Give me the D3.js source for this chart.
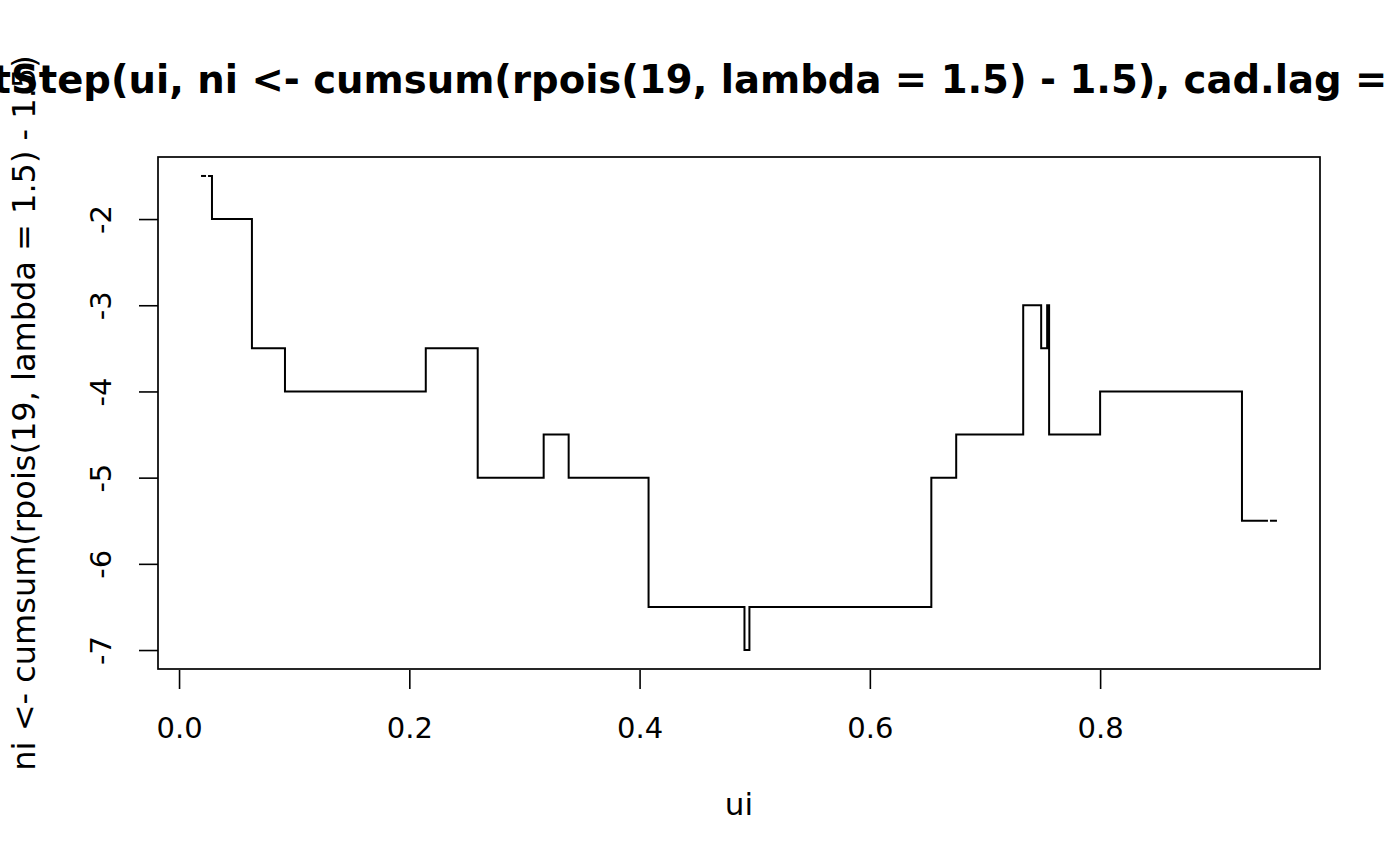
<!DOCTYPE html>
<html>
<head>
<meta charset="utf-8">
<script src="https://cdn.jsdelivr.net/npm/d3@7"></script>
<style>
  body { margin: 0; background: #fff; }
  svg { display: block; font-family: "DejaVu Sans", sans-serif; }
</style>
</head>
<body>
<div id="chart"></div>
<script>
// step positions (sorted ui) and the cumulative levels between them
var ui = [0.0191, 0.0286, 0.0633, 0.0920, 0.2143, 0.2594, 0.3167, 0.3384, 0.4078, 0.4911,
          0.4954, 0.6534, 0.6750, 0.7332, 0.7488, 0.7540, 0.7557, 0.8000, 0.9232, 0.9536];
var ni = [-1.5, -2, -3.5, -4, -3.5, -5, -4.5, -5, -6.5, -7,
          -6.5, -5, -4.5, -3, -3.5, -3, -4.5, -4, -5.5];
var xTicks = [0, 0.2, 0.4, 0.6, 0.8];
var yTicks = [-2, -3, -4, -5, -6, -7];
var titleText = "plotStep(ui, ni <- cumsum(rpois(19, lambda = 1.5) - 1.5), cad.lag = FALSE)";
var xLabel = "ui";
var yLabel = "ni <- cumsum(rpois(19, lambda = 1.5) - 1.5)";

var svgWidth = 1400;
var svgHeight = 866;
var margin = { top: 157, right: 80, bottom: 197, left: 158 };
var width = svgWidth - margin.left - margin.right;
var height = svgHeight - margin.top - margin.bottom;

var svg = d3.select("#chart").append("svg")
  .attr("width", svgWidth)
  .attr("height", svgHeight);

var chartGroup = svg.append("g")
  .attr("transform", `translate(${margin.left}, ${margin.top})`);

// R style 4% padding on both axes
function padded(ext) {
  var r = ext[1] - ext[0];
  return [ext[0] - 0.04 * r, ext[1] + 0.04 * r];
}

var xScale = d3.scaleLinear().domain(padded(d3.extent(ui))).range([0, width]);
var yScale = d3.scaleLinear().domain(padded(d3.extent(ni))).range([height, 0]);

// axes
var bottomAxis = d3.axisBottom(xScale).tickValues(xTicks).tickSize(19).tickPadding(28)
  .tickFormat(d3.format(".1f"));
var leftAxis = d3.axisLeft(yScale).tickValues(yTicks).tickSize(19).tickFormat(d => d);

var xAxis = chartGroup.append("g")
  .attr("transform", `translate(0, ${height + 1})`)
  .call(bottomAxis);
xAxis.select(".domain").remove();
xAxis.selectAll("line").attr("stroke", "#000").attr("stroke-width", 1.6);
xAxis.selectAll("text")
  .attr("fill", "#000")
  .attr("font-size", "29px")
  .attr("font-family", "DejaVu Sans");

var yAxis = chartGroup.append("g")
  .call(leftAxis);
yAxis.select(".domain").remove();
yAxis.selectAll("line").attr("stroke", "#000").attr("stroke-width", 1.6);
yAxis.selectAll("text")
  .attr("fill", "#000")
  .attr("font-size", "29px")
  .attr("font-family", "DejaVu Sans")
  .attr("text-anchor", "middle")
  .attr("dy", 0)
  .attr("x", 0)
  .attr("y", 0)
  .attr("transform", "translate(-47, 0) rotate(-90)");

// the step function, horizontal then vertical
var n = ni.length;
var stepPts = [];
stepPts.push([xScale(ui[0]) + 7, yScale(ni[0])]);
for (var i = 1; i < n; i++) {
  stepPts.push([xScale(ui[i]), yScale(ni[i])]);
}
stepPts.push([xScale(ui[n]) - 9, yScale(ni[n - 1])]);

var stepLine = d3.line().curve(d3.curveStepAfter);
chartGroup.append("path")
  .attr("d", stepLine(stepPts))
  .attr("fill", "none")
  .attr("stroke", "#000")
  .attr("stroke-width", 2);

// little end dashes
chartGroup.append("line")
  .attr("x1", xScale(ui[0])).attr("x2", xScale(ui[0]) + 5)
  .attr("y1", yScale(ni[0])).attr("y2", yScale(ni[0]))
  .attr("stroke", "#000").attr("stroke-width", 2);
chartGroup.append("line")
  .attr("x1", xScale(ui[n]) - 7).attr("x2", xScale(ui[n]))
  .attr("y1", yScale(ni[n - 1])).attr("y2", yScale(ni[n - 1]))
  .attr("stroke", "#000").attr("stroke-width", 2);

// plot box
chartGroup.append("rect")
  .attr("x", 0).attr("y", 0)
  .attr("width", width).attr("height", height)
  .attr("fill", "none")
  .attr("stroke", "#000")
  .attr("stroke-width", 1.7);

// title and axis labels
svg.append("text")
  .attr("x", margin.left + width / 2 - 2)
  .attr("y", 93)
  .attr("text-anchor", "middle")
  .attr("font-size", "38.6px")
  .attr("font-weight", "bold")
  .text(titleText);

svg.append("text")
  .attr("x", margin.left + width / 2)
  .attr("y", 815)
  .attr("text-anchor", "middle")
  .attr("font-size", "31px")
  .text(xLabel);

svg.append("text")
  .attr("transform", `translate(35, ${margin.top + height / 2}) rotate(-90)`)
  .attr("text-anchor", "middle")
  .attr("font-size", "32px")
  .text(yLabel);
</script>
</body>
</html>
